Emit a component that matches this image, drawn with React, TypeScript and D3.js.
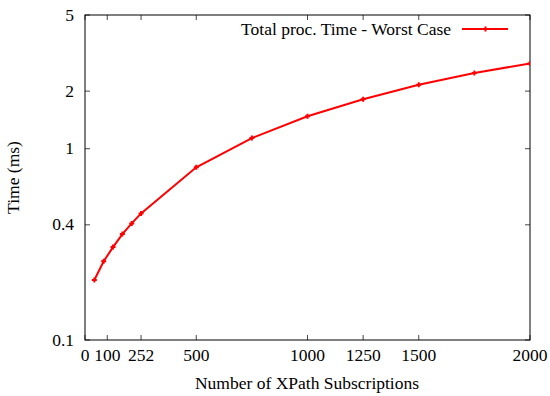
import React from "react";
import * as d3 from "d3";

const subscriptions = [42, 84, 126, 168, 210, 252, 500, 750, 1000, 1250, 1500, 1750, 2000];
const timeMs = [0.206, 0.258, 0.306, 0.358, 0.407, 0.459, 0.8, 1.137, 1.477, 1.812, 2.16, 2.49, 2.79];
const xTicks = [0, 100, 252, 500, 1000, 1250, 1500, 2000];
const yTicks = [0.1, 0.4, 1, 2, 5];
const seriesName = "Total proc. Time - Worst Case";

export default function App() {
  const W = 550, H = 396;
  const left = 85, right = 530, top = 15, bottom = 340;
  const x = d3.scaleLinear().domain([0, 2000]).range([left, right]);
  const y = d3.scaleLog().domain([0.1, 5]).range([bottom, top]);
  const line = d3.line<number>().x((_, i) => x(subscriptions[i])).y((d) => y(d));
  const ts: React.CSSProperties = { fontFamily: '"Liberation Serif", "Times New Roman", Times, serif', fontSize: "17.5px" };
  const tl = 5;
  return (
    <svg width={W} height={H} style={{ position: "absolute", left: 0, top: 0 }}>
      <rect width={W} height={H} fill="white" />
      <defs>
        <clipPath id="plot">
          <rect x={left} y={top} width={right - left} height={bottom - top} />
        </clipPath>
      </defs>
      {xTicks.map((t) => (
        <g key={"x" + t}>
          <line x1={x(t)} x2={x(t)} y1={bottom} y2={bottom - tl} stroke="#444" />
          <line x1={x(t)} x2={x(t)} y1={top} y2={top + tl} stroke="#444" />
          <text x={x(t)} y={361} style={ts} textAnchor="middle">{t}</text>
        </g>
      ))}
      {yTicks.map((t) => (
        <g key={"y" + t}>
          <line x1={left} x2={left + tl} y1={y(t)} y2={y(t)} stroke="#444" />
          <line x1={right} x2={right - tl} y1={y(t)} y2={y(t)} stroke="#444" />
          <text x={74} y={y(t) + 5.5} style={ts} textAnchor="end">{t}</text>
        </g>
      ))}
      <rect x={left} y={top} width={right - left} height={bottom - top} fill="none" stroke="black" strokeWidth={1} />
      <g clipPath="url(#plot)">
        <path d={line(timeMs) || ""} fill="none" stroke="#ff0000" strokeWidth={2} />
        {timeMs.map((v, i) => (
          <path key={i} d={`M${x(subscriptions[i]) - 2.5},${y(v)}h5M${x(subscriptions[i])},${y(v) - 2.5}v5`} stroke="#ff0000" strokeWidth={2} />
        ))}
      </g>
      <text x={451} y={35} style={ts} textAnchor="end">{seriesName}</text>
      <line x1={462} x2={508} y1={29} y2={29} stroke="#ff0000" strokeWidth={2} />
      <path d="M483,29h5M485.5,26.5v5" stroke="#ff0000" strokeWidth={2} />
      <text x={307} y={389} style={ts} textAnchor="middle">Number of XPath Subscriptions</text>
      <text transform={`translate(19,${(top + bottom) / 2}) rotate(-90)`} style={ts} textAnchor="middle">Time (ms)</text>
    </svg>
  );
}
